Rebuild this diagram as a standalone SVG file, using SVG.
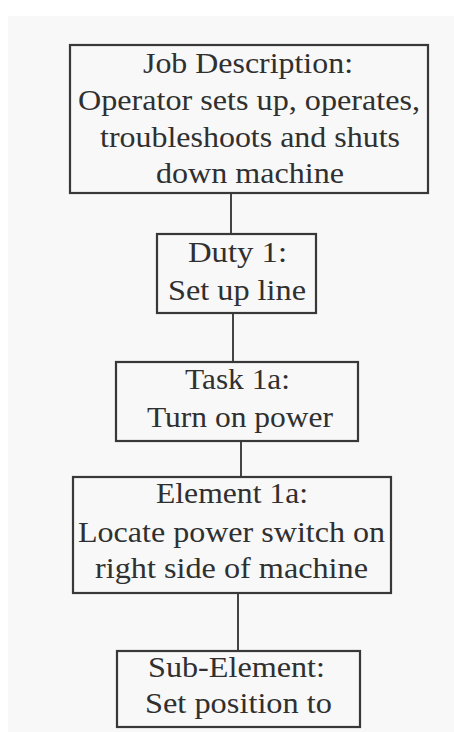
<svg xmlns="http://www.w3.org/2000/svg" width="454" height="732" viewBox="0 0 454 732">
<style>
.box{fill:none;stroke:#383838;stroke-width:2.2}
.t{font-family:"Liberation Serif","Times New Roman",serif;font-size:30px;fill:#303030;text-anchor:middle}
.c{stroke:#444;stroke-width:2;fill:none}
</style>
<rect x="0" y="0" width="454" height="732" fill="#ffffff"/>
<rect x="8" y="16" width="446" height="716" fill="#f8f8f8"/>
<g id="connectors">
<line class="c" x1="231" y1="193" x2="231" y2="234"/>
<line class="c" x1="233" y1="313" x2="233" y2="362" stroke-width="1.5"/>
<line class="c" x1="241" y1="441" x2="241" y2="477" stroke-width="1.5"/>
<line class="c" x1="238" y1="593" x2="238" y2="651"/>
</g>
<g id="job">
<rect class="box" x="70" y="45" width="358" height="148"/>
<text class="t" x="248" y="73" textLength="210" lengthAdjust="spacingAndGlyphs">Job Description:</text>
<text class="t" x="249" y="110" textLength="342" lengthAdjust="spacingAndGlyphs">Operator sets up, operates,</text>
<text class="t" x="250" y="147" textLength="300" lengthAdjust="spacingAndGlyphs">troubleshoots and shuts</text>
<text class="t" x="250" y="183" textLength="188" lengthAdjust="spacingAndGlyphs">down machine</text>
</g>
<g id="duty">
<rect class="box" x="157" y="234" width="159" height="79"/>
<text class="t" x="237.5" y="262" textLength="99" lengthAdjust="spacingAndGlyphs">Duty 1:</text>
<text class="t" x="237" y="300" textLength="138" lengthAdjust="spacingAndGlyphs">Set up line</text>
</g>
<g id="task">
<rect class="box" x="116" y="362" width="242" height="79"/>
<text class="t" x="237.5" y="389" textLength="105" lengthAdjust="spacingAndGlyphs">Task 1a:</text>
<text class="t" x="240" y="427" textLength="186" lengthAdjust="spacingAndGlyphs">Turn on power</text>
</g>
<g id="element">
<rect class="box" x="73" y="477" width="318" height="116"/>
<text class="t" x="232" y="503" textLength="152" lengthAdjust="spacingAndGlyphs">Element 1a:</text>
<text class="t" x="231.5" y="542" textLength="307" lengthAdjust="spacingAndGlyphs">Locate power switch on</text>
<text class="t" x="231.5" y="578" textLength="273" lengthAdjust="spacingAndGlyphs">right side of machine</text>
</g>
<g id="subelement">
<rect class="box" x="117" y="651" width="243" height="76"/>
<text class="t" x="236.5" y="677" textLength="177" lengthAdjust="spacingAndGlyphs">Sub-Element:</text>
<text class="t" x="238.5" y="713" textLength="187" lengthAdjust="spacingAndGlyphs">Set position to</text>
</g>
</svg>
